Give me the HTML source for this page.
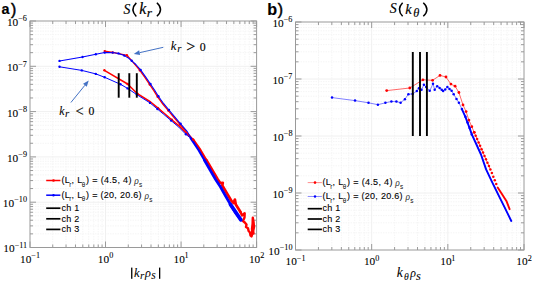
<!DOCTYPE html>
<html><head><meta charset="utf-8"><style>
html,body{margin:0;padding:0;background:#fff;width:533px;height:284px;overflow:hidden}
svg{display:block}
.tl{font-family:"Liberation Serif",serif;font-size:11.3px;fill:#000;stroke:#000;stroke-width:0.08px}
.tls{font-family:"Liberation Serif",serif;font-size:8.2px;fill:#000;stroke:#000;stroke-width:0.08px}
.lg{font-family:"Liberation Sans",sans-serif;font-size:9px;fill:#000;stroke:#000;stroke-width:0.1px;letter-spacing:0.3px}
.lgs{font-family:"Liberation Sans",sans-serif;font-size:6.4px;fill:#111}
.rho{font-family:"Liberation Serif",serif;font-style:italic;font-size:9.5px;fill:#333}
.pl{font-family:"Liberation Sans",sans-serif;font-weight:bold;font-size:14px;fill:#000}
.ttl,.xl,.ann{font-family:"Liberation Serif",serif;font-size:14px;fill:#000}
.ann{font-size:13px}
.it{font-style:italic}
.sub2{font-size:9.5px}
</style></head><body>
<svg width="533" height="284" viewBox="0 0 533 284">
<rect width="533" height="284" fill="#fff"/>
<line x1="52.74" y1="21" x2="52.74" y2="247.5" stroke="#f5f5f5" stroke-width="1" stroke-dasharray="1.5,1"/>
<line x1="66.04" y1="21" x2="66.04" y2="247.5" stroke="#f5f5f5" stroke-width="1" stroke-dasharray="1.5,1"/>
<line x1="75.48" y1="21" x2="75.48" y2="247.5" stroke="#f5f5f5" stroke-width="1" stroke-dasharray="1.5,1"/>
<line x1="82.8" y1="21" x2="82.8" y2="247.5" stroke="#f5f5f5" stroke-width="1" stroke-dasharray="1.5,1"/>
<line x1="88.78" y1="21" x2="88.78" y2="247.5" stroke="#f5f5f5" stroke-width="1" stroke-dasharray="1.5,1"/>
<line x1="93.83" y1="21" x2="93.83" y2="247.5" stroke="#f5f5f5" stroke-width="1" stroke-dasharray="1.5,1"/>
<line x1="98.21" y1="21" x2="98.21" y2="247.5" stroke="#f5f5f5" stroke-width="1" stroke-dasharray="1.5,1"/>
<line x1="102.08" y1="21" x2="102.08" y2="247.5" stroke="#f5f5f5" stroke-width="1" stroke-dasharray="1.5,1"/>
<line x1="128.27" y1="21" x2="128.27" y2="247.5" stroke="#f5f5f5" stroke-width="1" stroke-dasharray="1.5,1"/>
<line x1="141.57" y1="21" x2="141.57" y2="247.5" stroke="#f5f5f5" stroke-width="1" stroke-dasharray="1.5,1"/>
<line x1="151.01" y1="21" x2="151.01" y2="247.5" stroke="#f5f5f5" stroke-width="1" stroke-dasharray="1.5,1"/>
<line x1="158.33" y1="21" x2="158.33" y2="247.5" stroke="#f5f5f5" stroke-width="1" stroke-dasharray="1.5,1"/>
<line x1="164.31" y1="21" x2="164.31" y2="247.5" stroke="#f5f5f5" stroke-width="1" stroke-dasharray="1.5,1"/>
<line x1="169.37" y1="21" x2="169.37" y2="247.5" stroke="#f5f5f5" stroke-width="1" stroke-dasharray="1.5,1"/>
<line x1="173.75" y1="21" x2="173.75" y2="247.5" stroke="#f5f5f5" stroke-width="1" stroke-dasharray="1.5,1"/>
<line x1="177.61" y1="21" x2="177.61" y2="247.5" stroke="#f5f5f5" stroke-width="1" stroke-dasharray="1.5,1"/>
<line x1="203.8" y1="21" x2="203.8" y2="247.5" stroke="#f5f5f5" stroke-width="1" stroke-dasharray="1.5,1"/>
<line x1="217.11" y1="21" x2="217.11" y2="247.5" stroke="#f5f5f5" stroke-width="1" stroke-dasharray="1.5,1"/>
<line x1="226.54" y1="21" x2="226.54" y2="247.5" stroke="#f5f5f5" stroke-width="1" stroke-dasharray="1.5,1"/>
<line x1="233.86" y1="21" x2="233.86" y2="247.5" stroke="#f5f5f5" stroke-width="1" stroke-dasharray="1.5,1"/>
<line x1="239.84" y1="21" x2="239.84" y2="247.5" stroke="#f5f5f5" stroke-width="1" stroke-dasharray="1.5,1"/>
<line x1="244.9" y1="21" x2="244.9" y2="247.5" stroke="#f5f5f5" stroke-width="1" stroke-dasharray="1.5,1"/>
<line x1="249.28" y1="21" x2="249.28" y2="247.5" stroke="#f5f5f5" stroke-width="1" stroke-dasharray="1.5,1"/>
<line x1="253.14" y1="21" x2="253.14" y2="247.5" stroke="#f5f5f5" stroke-width="1" stroke-dasharray="1.5,1"/>
<line x1="30" y1="233.86" x2="256.6" y2="233.86" stroke="#f5f5f5" stroke-width="1" stroke-dasharray="1.5,1"/>
<line x1="30" y1="225.89" x2="256.6" y2="225.89" stroke="#f5f5f5" stroke-width="1" stroke-dasharray="1.5,1"/>
<line x1="30" y1="220.23" x2="256.6" y2="220.23" stroke="#f5f5f5" stroke-width="1" stroke-dasharray="1.5,1"/>
<line x1="30" y1="215.84" x2="256.6" y2="215.84" stroke="#f5f5f5" stroke-width="1" stroke-dasharray="1.5,1"/>
<line x1="30" y1="212.25" x2="256.6" y2="212.25" stroke="#f5f5f5" stroke-width="1" stroke-dasharray="1.5,1"/>
<line x1="30" y1="209.22" x2="256.6" y2="209.22" stroke="#f5f5f5" stroke-width="1" stroke-dasharray="1.5,1"/>
<line x1="30" y1="206.59" x2="256.6" y2="206.59" stroke="#f5f5f5" stroke-width="1" stroke-dasharray="1.5,1"/>
<line x1="30" y1="204.27" x2="256.6" y2="204.27" stroke="#f5f5f5" stroke-width="1" stroke-dasharray="1.5,1"/>
<line x1="30" y1="188.56" x2="256.6" y2="188.56" stroke="#f5f5f5" stroke-width="1" stroke-dasharray="1.5,1"/>
<line x1="30" y1="180.59" x2="256.6" y2="180.59" stroke="#f5f5f5" stroke-width="1" stroke-dasharray="1.5,1"/>
<line x1="30" y1="174.93" x2="256.6" y2="174.93" stroke="#f5f5f5" stroke-width="1" stroke-dasharray="1.5,1"/>
<line x1="30" y1="170.54" x2="256.6" y2="170.54" stroke="#f5f5f5" stroke-width="1" stroke-dasharray="1.5,1"/>
<line x1="30" y1="166.95" x2="256.6" y2="166.95" stroke="#f5f5f5" stroke-width="1" stroke-dasharray="1.5,1"/>
<line x1="30" y1="163.92" x2="256.6" y2="163.92" stroke="#f5f5f5" stroke-width="1" stroke-dasharray="1.5,1"/>
<line x1="30" y1="161.29" x2="256.6" y2="161.29" stroke="#f5f5f5" stroke-width="1" stroke-dasharray="1.5,1"/>
<line x1="30" y1="158.97" x2="256.6" y2="158.97" stroke="#f5f5f5" stroke-width="1" stroke-dasharray="1.5,1"/>
<line x1="30" y1="143.26" x2="256.6" y2="143.26" stroke="#f5f5f5" stroke-width="1" stroke-dasharray="1.5,1"/>
<line x1="30" y1="135.29" x2="256.6" y2="135.29" stroke="#f5f5f5" stroke-width="1" stroke-dasharray="1.5,1"/>
<line x1="30" y1="129.63" x2="256.6" y2="129.63" stroke="#f5f5f5" stroke-width="1" stroke-dasharray="1.5,1"/>
<line x1="30" y1="125.24" x2="256.6" y2="125.24" stroke="#f5f5f5" stroke-width="1" stroke-dasharray="1.5,1"/>
<line x1="30" y1="121.65" x2="256.6" y2="121.65" stroke="#f5f5f5" stroke-width="1" stroke-dasharray="1.5,1"/>
<line x1="30" y1="118.62" x2="256.6" y2="118.62" stroke="#f5f5f5" stroke-width="1" stroke-dasharray="1.5,1"/>
<line x1="30" y1="115.99" x2="256.6" y2="115.99" stroke="#f5f5f5" stroke-width="1" stroke-dasharray="1.5,1"/>
<line x1="30" y1="113.67" x2="256.6" y2="113.67" stroke="#f5f5f5" stroke-width="1" stroke-dasharray="1.5,1"/>
<line x1="30" y1="97.96" x2="256.6" y2="97.96" stroke="#f5f5f5" stroke-width="1" stroke-dasharray="1.5,1"/>
<line x1="30" y1="89.99" x2="256.6" y2="89.99" stroke="#f5f5f5" stroke-width="1" stroke-dasharray="1.5,1"/>
<line x1="30" y1="84.33" x2="256.6" y2="84.33" stroke="#f5f5f5" stroke-width="1" stroke-dasharray="1.5,1"/>
<line x1="30" y1="79.94" x2="256.6" y2="79.94" stroke="#f5f5f5" stroke-width="1" stroke-dasharray="1.5,1"/>
<line x1="30" y1="76.35" x2="256.6" y2="76.35" stroke="#f5f5f5" stroke-width="1" stroke-dasharray="1.5,1"/>
<line x1="30" y1="73.32" x2="256.6" y2="73.32" stroke="#f5f5f5" stroke-width="1" stroke-dasharray="1.5,1"/>
<line x1="30" y1="70.69" x2="256.6" y2="70.69" stroke="#f5f5f5" stroke-width="1" stroke-dasharray="1.5,1"/>
<line x1="30" y1="68.37" x2="256.6" y2="68.37" stroke="#f5f5f5" stroke-width="1" stroke-dasharray="1.5,1"/>
<line x1="30" y1="52.66" x2="256.6" y2="52.66" stroke="#f5f5f5" stroke-width="1" stroke-dasharray="1.5,1"/>
<line x1="30" y1="44.69" x2="256.6" y2="44.69" stroke="#f5f5f5" stroke-width="1" stroke-dasharray="1.5,1"/>
<line x1="30" y1="39.03" x2="256.6" y2="39.03" stroke="#f5f5f5" stroke-width="1" stroke-dasharray="1.5,1"/>
<line x1="30" y1="34.64" x2="256.6" y2="34.64" stroke="#f5f5f5" stroke-width="1" stroke-dasharray="1.5,1"/>
<line x1="30" y1="31.05" x2="256.6" y2="31.05" stroke="#f5f5f5" stroke-width="1" stroke-dasharray="1.5,1"/>
<line x1="30" y1="28.02" x2="256.6" y2="28.02" stroke="#f5f5f5" stroke-width="1" stroke-dasharray="1.5,1"/>
<line x1="30" y1="25.39" x2="256.6" y2="25.39" stroke="#f5f5f5" stroke-width="1" stroke-dasharray="1.5,1"/>
<line x1="30" y1="23.07" x2="256.6" y2="23.07" stroke="#f5f5f5" stroke-width="1" stroke-dasharray="1.5,1"/>
<line x1="105.53" y1="21" x2="105.53" y2="247.5" stroke="#f0f0f0" stroke-width="1"/>
<line x1="181.07" y1="21" x2="181.07" y2="247.5" stroke="#f0f0f0" stroke-width="1"/>
<line x1="30" y1="66.3" x2="256.6" y2="66.3" stroke="#f0f0f0" stroke-width="1"/>
<line x1="30" y1="111.6" x2="256.6" y2="111.6" stroke="#f0f0f0" stroke-width="1"/>
<line x1="30" y1="156.9" x2="256.6" y2="156.9" stroke="#f0f0f0" stroke-width="1"/>
<line x1="30" y1="202.2" x2="256.6" y2="202.2" stroke="#f0f0f0" stroke-width="1"/>
<path d="M30 247.5v-6M30 21v6M52.74 247.5v-3M52.74 21v3M66.04 247.5v-3M66.04 21v3M75.48 247.5v-3M75.48 21v3M82.8 247.5v-3M82.8 21v3M88.78 247.5v-3M88.78 21v3M93.83 247.5v-3M93.83 21v3M98.21 247.5v-3M98.21 21v3M102.08 247.5v-3M102.08 21v3M105.53 247.5v-6M105.53 21v6M128.27 247.5v-3M128.27 21v3M141.57 247.5v-3M141.57 21v3M151.01 247.5v-3M151.01 21v3M158.33 247.5v-3M158.33 21v3M164.31 247.5v-3M164.31 21v3M169.37 247.5v-3M169.37 21v3M173.75 247.5v-3M173.75 21v3M177.61 247.5v-3M177.61 21v3M181.07 247.5v-6M181.07 21v6M203.8 247.5v-3M203.8 21v3M217.11 247.5v-3M217.11 21v3M226.54 247.5v-3M226.54 21v3M233.86 247.5v-3M233.86 21v3M239.84 247.5v-3M239.84 21v3M244.9 247.5v-3M244.9 21v3M249.28 247.5v-3M249.28 21v3M253.14 247.5v-3M253.14 21v3M256.6 247.5v-6M256.6 21v6M30 21h6M256.6 21h-6M30 233.86h3M256.6 233.86h-3M30 225.89h3M256.6 225.89h-3M30 220.23h3M256.6 220.23h-3M30 215.84h3M256.6 215.84h-3M30 212.25h3M256.6 212.25h-3M30 209.22h3M256.6 209.22h-3M30 206.59h3M256.6 206.59h-3M30 204.27h3M256.6 204.27h-3M30 66.3h6M256.6 66.3h-6M30 188.56h3M256.6 188.56h-3M30 180.59h3M256.6 180.59h-3M30 174.93h3M256.6 174.93h-3M30 170.54h3M256.6 170.54h-3M30 166.95h3M256.6 166.95h-3M30 163.92h3M256.6 163.92h-3M30 161.29h3M256.6 161.29h-3M30 158.97h3M256.6 158.97h-3M30 111.6h6M256.6 111.6h-6M30 143.26h3M256.6 143.26h-3M30 135.29h3M256.6 135.29h-3M30 129.63h3M256.6 129.63h-3M30 125.24h3M256.6 125.24h-3M30 121.65h3M256.6 121.65h-3M30 118.62h3M256.6 118.62h-3M30 115.99h3M256.6 115.99h-3M30 113.67h3M256.6 113.67h-3M30 156.9h6M256.6 156.9h-6M30 97.96h3M256.6 97.96h-3M30 89.99h3M256.6 89.99h-3M30 84.33h3M256.6 84.33h-3M30 79.94h3M256.6 79.94h-3M30 76.35h3M256.6 76.35h-3M30 73.32h3M256.6 73.32h-3M30 70.69h3M256.6 70.69h-3M30 68.37h3M256.6 68.37h-3M30 202.2h6M256.6 202.2h-6M30 52.66h3M256.6 52.66h-3M30 44.69h3M256.6 44.69h-3M30 39.03h3M256.6 39.03h-3M30 34.64h3M256.6 34.64h-3M30 31.05h3M256.6 31.05h-3M30 28.02h3M256.6 28.02h-3M30 25.39h3M256.6 25.39h-3M30 23.07h3M256.6 23.07h-3M30 247.5h6M256.6 247.5h-6" stroke="#9a9a9a" stroke-width="1" fill="none"/>
<rect x="30" y="21" width="226.6" height="226.5" fill="none" stroke="#9a9a9a" stroke-width="1"/>
<text x="20.03" y="262.8" class="tl">10</text><text x="31.37" y="258.1" class="tls">−1</text>
<text x="97.76" y="262.8" class="tl">10</text><text x="109.18" y="258.1" class="tls">0</text>
<text x="173.56" y="262.8" class="tl">10</text><text x="184.61" y="258.1" class="tls">1</text>
<text x="248.91" y="262.8" class="tl">10</text><text x="260.28" y="258.1" class="tls">2</text>
<text x="6.88" y="25.9" class="tl">10</text><text x="18.21" y="21.2" class="tls">−6</text>
<text x="6.88" y="71.2" class="tl">10</text><text x="18.21" y="66.5" class="tls">−7</text>
<text x="6.96" y="116.5" class="tl">10</text><text x="18.3" y="111.8" class="tls">−8</text>
<text x="6.96" y="161.8" class="tl">10</text><text x="18.3" y="157.1" class="tls">−9</text>
<text x="2.86" y="207.1" class="tl">10</text><text x="14.2" y="202.4" class="tls">−10</text>
<text x="3.35" y="252.4" class="tl">10</text><text x="14.69" y="247.7" class="tls">−11</text>
<line x1="318.43" y1="22" x2="318.43" y2="250" stroke="#f5f5f5" stroke-width="1" stroke-dasharray="1.5,1"/>
<line x1="331.84" y1="22" x2="331.84" y2="250" stroke="#f5f5f5" stroke-width="1" stroke-dasharray="1.5,1"/>
<line x1="341.36" y1="22" x2="341.36" y2="250" stroke="#f5f5f5" stroke-width="1" stroke-dasharray="1.5,1"/>
<line x1="348.74" y1="22" x2="348.74" y2="250" stroke="#f5f5f5" stroke-width="1" stroke-dasharray="1.5,1"/>
<line x1="354.77" y1="22" x2="354.77" y2="250" stroke="#f5f5f5" stroke-width="1" stroke-dasharray="1.5,1"/>
<line x1="359.87" y1="22" x2="359.87" y2="250" stroke="#f5f5f5" stroke-width="1" stroke-dasharray="1.5,1"/>
<line x1="364.29" y1="22" x2="364.29" y2="250" stroke="#f5f5f5" stroke-width="1" stroke-dasharray="1.5,1"/>
<line x1="368.18" y1="22" x2="368.18" y2="250" stroke="#f5f5f5" stroke-width="1" stroke-dasharray="1.5,1"/>
<line x1="394.6" y1="22" x2="394.6" y2="250" stroke="#f5f5f5" stroke-width="1" stroke-dasharray="1.5,1"/>
<line x1="408.01" y1="22" x2="408.01" y2="250" stroke="#f5f5f5" stroke-width="1" stroke-dasharray="1.5,1"/>
<line x1="417.52" y1="22" x2="417.52" y2="250" stroke="#f5f5f5" stroke-width="1" stroke-dasharray="1.5,1"/>
<line x1="424.9" y1="22" x2="424.9" y2="250" stroke="#f5f5f5" stroke-width="1" stroke-dasharray="1.5,1"/>
<line x1="430.94" y1="22" x2="430.94" y2="250" stroke="#f5f5f5" stroke-width="1" stroke-dasharray="1.5,1"/>
<line x1="436.03" y1="22" x2="436.03" y2="250" stroke="#f5f5f5" stroke-width="1" stroke-dasharray="1.5,1"/>
<line x1="440.45" y1="22" x2="440.45" y2="250" stroke="#f5f5f5" stroke-width="1" stroke-dasharray="1.5,1"/>
<line x1="444.35" y1="22" x2="444.35" y2="250" stroke="#f5f5f5" stroke-width="1" stroke-dasharray="1.5,1"/>
<line x1="470.76" y1="22" x2="470.76" y2="250" stroke="#f5f5f5" stroke-width="1" stroke-dasharray="1.5,1"/>
<line x1="484.17" y1="22" x2="484.17" y2="250" stroke="#f5f5f5" stroke-width="1" stroke-dasharray="1.5,1"/>
<line x1="493.69" y1="22" x2="493.69" y2="250" stroke="#f5f5f5" stroke-width="1" stroke-dasharray="1.5,1"/>
<line x1="501.07" y1="22" x2="501.07" y2="250" stroke="#f5f5f5" stroke-width="1" stroke-dasharray="1.5,1"/>
<line x1="507.1" y1="22" x2="507.1" y2="250" stroke="#f5f5f5" stroke-width="1" stroke-dasharray="1.5,1"/>
<line x1="512.2" y1="22" x2="512.2" y2="250" stroke="#f5f5f5" stroke-width="1" stroke-dasharray="1.5,1"/>
<line x1="516.62" y1="22" x2="516.62" y2="250" stroke="#f5f5f5" stroke-width="1" stroke-dasharray="1.5,1"/>
<line x1="520.51" y1="22" x2="520.51" y2="250" stroke="#f5f5f5" stroke-width="1" stroke-dasharray="1.5,1"/>
<line x1="295.5" y1="232.84" x2="524" y2="232.84" stroke="#f5f5f5" stroke-width="1" stroke-dasharray="1.5,1"/>
<line x1="295.5" y1="222.8" x2="524" y2="222.8" stroke="#f5f5f5" stroke-width="1" stroke-dasharray="1.5,1"/>
<line x1="295.5" y1="215.68" x2="524" y2="215.68" stroke="#f5f5f5" stroke-width="1" stroke-dasharray="1.5,1"/>
<line x1="295.5" y1="210.16" x2="524" y2="210.16" stroke="#f5f5f5" stroke-width="1" stroke-dasharray="1.5,1"/>
<line x1="295.5" y1="205.65" x2="524" y2="205.65" stroke="#f5f5f5" stroke-width="1" stroke-dasharray="1.5,1"/>
<line x1="295.5" y1="201.83" x2="524" y2="201.83" stroke="#f5f5f5" stroke-width="1" stroke-dasharray="1.5,1"/>
<line x1="295.5" y1="198.52" x2="524" y2="198.52" stroke="#f5f5f5" stroke-width="1" stroke-dasharray="1.5,1"/>
<line x1="295.5" y1="195.61" x2="524" y2="195.61" stroke="#f5f5f5" stroke-width="1" stroke-dasharray="1.5,1"/>
<line x1="295.5" y1="175.84" x2="524" y2="175.84" stroke="#f5f5f5" stroke-width="1" stroke-dasharray="1.5,1"/>
<line x1="295.5" y1="165.8" x2="524" y2="165.8" stroke="#f5f5f5" stroke-width="1" stroke-dasharray="1.5,1"/>
<line x1="295.5" y1="158.68" x2="524" y2="158.68" stroke="#f5f5f5" stroke-width="1" stroke-dasharray="1.5,1"/>
<line x1="295.5" y1="153.16" x2="524" y2="153.16" stroke="#f5f5f5" stroke-width="1" stroke-dasharray="1.5,1"/>
<line x1="295.5" y1="148.65" x2="524" y2="148.65" stroke="#f5f5f5" stroke-width="1" stroke-dasharray="1.5,1"/>
<line x1="295.5" y1="144.83" x2="524" y2="144.83" stroke="#f5f5f5" stroke-width="1" stroke-dasharray="1.5,1"/>
<line x1="295.5" y1="141.52" x2="524" y2="141.52" stroke="#f5f5f5" stroke-width="1" stroke-dasharray="1.5,1"/>
<line x1="295.5" y1="138.61" x2="524" y2="138.61" stroke="#f5f5f5" stroke-width="1" stroke-dasharray="1.5,1"/>
<line x1="295.5" y1="118.84" x2="524" y2="118.84" stroke="#f5f5f5" stroke-width="1" stroke-dasharray="1.5,1"/>
<line x1="295.5" y1="108.8" x2="524" y2="108.8" stroke="#f5f5f5" stroke-width="1" stroke-dasharray="1.5,1"/>
<line x1="295.5" y1="101.68" x2="524" y2="101.68" stroke="#f5f5f5" stroke-width="1" stroke-dasharray="1.5,1"/>
<line x1="295.5" y1="96.16" x2="524" y2="96.16" stroke="#f5f5f5" stroke-width="1" stroke-dasharray="1.5,1"/>
<line x1="295.5" y1="91.65" x2="524" y2="91.65" stroke="#f5f5f5" stroke-width="1" stroke-dasharray="1.5,1"/>
<line x1="295.5" y1="87.83" x2="524" y2="87.83" stroke="#f5f5f5" stroke-width="1" stroke-dasharray="1.5,1"/>
<line x1="295.5" y1="84.52" x2="524" y2="84.52" stroke="#f5f5f5" stroke-width="1" stroke-dasharray="1.5,1"/>
<line x1="295.5" y1="81.61" x2="524" y2="81.61" stroke="#f5f5f5" stroke-width="1" stroke-dasharray="1.5,1"/>
<line x1="295.5" y1="61.84" x2="524" y2="61.84" stroke="#f5f5f5" stroke-width="1" stroke-dasharray="1.5,1"/>
<line x1="295.5" y1="51.8" x2="524" y2="51.8" stroke="#f5f5f5" stroke-width="1" stroke-dasharray="1.5,1"/>
<line x1="295.5" y1="44.68" x2="524" y2="44.68" stroke="#f5f5f5" stroke-width="1" stroke-dasharray="1.5,1"/>
<line x1="295.5" y1="39.16" x2="524" y2="39.16" stroke="#f5f5f5" stroke-width="1" stroke-dasharray="1.5,1"/>
<line x1="295.5" y1="34.65" x2="524" y2="34.65" stroke="#f5f5f5" stroke-width="1" stroke-dasharray="1.5,1"/>
<line x1="295.5" y1="30.83" x2="524" y2="30.83" stroke="#f5f5f5" stroke-width="1" stroke-dasharray="1.5,1"/>
<line x1="295.5" y1="27.52" x2="524" y2="27.52" stroke="#f5f5f5" stroke-width="1" stroke-dasharray="1.5,1"/>
<line x1="295.5" y1="24.61" x2="524" y2="24.61" stroke="#f5f5f5" stroke-width="1" stroke-dasharray="1.5,1"/>
<line x1="371.67" y1="22" x2="371.67" y2="250" stroke="#f0f0f0" stroke-width="1"/>
<line x1="447.83" y1="22" x2="447.83" y2="250" stroke="#f0f0f0" stroke-width="1"/>
<line x1="295.5" y1="79" x2="524" y2="79" stroke="#f0f0f0" stroke-width="1"/>
<line x1="295.5" y1="136" x2="524" y2="136" stroke="#f0f0f0" stroke-width="1"/>
<line x1="295.5" y1="193" x2="524" y2="193" stroke="#f0f0f0" stroke-width="1"/>
<path d="M295.5 250v-6M295.5 22v6M318.43 250v-3M318.43 22v3M331.84 250v-3M331.84 22v3M341.36 250v-3M341.36 22v3M348.74 250v-3M348.74 22v3M354.77 250v-3M354.77 22v3M359.87 250v-3M359.87 22v3M364.29 250v-3M364.29 22v3M368.18 250v-3M368.18 22v3M371.67 250v-6M371.67 22v6M394.6 250v-3M394.6 22v3M408.01 250v-3M408.01 22v3M417.52 250v-3M417.52 22v3M424.9 250v-3M424.9 22v3M430.94 250v-3M430.94 22v3M436.03 250v-3M436.03 22v3M440.45 250v-3M440.45 22v3M444.35 250v-3M444.35 22v3M447.83 250v-6M447.83 22v6M470.76 250v-3M470.76 22v3M484.17 250v-3M484.17 22v3M493.69 250v-3M493.69 22v3M501.07 250v-3M501.07 22v3M507.1 250v-3M507.1 22v3M512.2 250v-3M512.2 22v3M516.62 250v-3M516.62 22v3M520.51 250v-3M520.51 22v3M524 250v-6M524 22v6M295.5 22h6M524 22h-6M295.5 232.84h3M524 232.84h-3M295.5 222.8h3M524 222.8h-3M295.5 215.68h3M524 215.68h-3M295.5 210.16h3M524 210.16h-3M295.5 205.65h3M524 205.65h-3M295.5 201.83h3M524 201.83h-3M295.5 198.52h3M524 198.52h-3M295.5 195.61h3M524 195.61h-3M295.5 79h6M524 79h-6M295.5 175.84h3M524 175.84h-3M295.5 165.8h3M524 165.8h-3M295.5 158.68h3M524 158.68h-3M295.5 153.16h3M524 153.16h-3M295.5 148.65h3M524 148.65h-3M295.5 144.83h3M524 144.83h-3M295.5 141.52h3M524 141.52h-3M295.5 138.61h3M524 138.61h-3M295.5 136h6M524 136h-6M295.5 118.84h3M524 118.84h-3M295.5 108.8h3M524 108.8h-3M295.5 101.68h3M524 101.68h-3M295.5 96.16h3M524 96.16h-3M295.5 91.65h3M524 91.65h-3M295.5 87.83h3M524 87.83h-3M295.5 84.52h3M524 84.52h-3M295.5 81.61h3M524 81.61h-3M295.5 193h6M524 193h-6M295.5 61.84h3M524 61.84h-3M295.5 51.8h3M524 51.8h-3M295.5 44.68h3M524 44.68h-3M295.5 39.16h3M524 39.16h-3M295.5 34.65h3M524 34.65h-3M295.5 30.83h3M524 30.83h-3M295.5 27.52h3M524 27.52h-3M295.5 24.61h3M524 24.61h-3M295.5 250h6M524 250h-6" stroke="#9a9a9a" stroke-width="1" fill="none"/>
<rect x="295.5" y="22" width="228.5" height="228" fill="none" stroke="#9a9a9a" stroke-width="1"/>
<text x="285.53" y="265.3" class="tl">10</text><text x="296.87" y="260.6" class="tls">−1</text>
<text x="363.89" y="265.3" class="tl">10</text><text x="375.31" y="260.6" class="tls">0</text>
<text x="440.32" y="265.3" class="tl">10</text><text x="451.37" y="260.6" class="tls">1</text>
<text x="516.31" y="265.3" class="tl">10</text><text x="527.68" y="260.6" class="tls">2</text>
<text x="272.38" y="26.9" class="tl">10</text><text x="283.71" y="22.2" class="tls">−6</text>
<text x="272.38" y="83.9" class="tl">10</text><text x="283.71" y="79.2" class="tls">−7</text>
<text x="272.46" y="140.9" class="tl">10</text><text x="283.79" y="136.2" class="tls">−8</text>
<text x="272.46" y="197.9" class="tl">10</text><text x="283.79" y="193.2" class="tls">−9</text>
<text x="268.36" y="254.9" class="tl">10</text><text x="279.69" y="250.2" class="tls">−10</text>
<polyline points="104.7,51.1 112.7,52.4 126.9,55.3 131.7,60.6 139.87,70.42 144.86,77.42 149.76,84.51 153.94,90.79 157.65,96.8 162.99,104.25 168.31,110.58 173.61,116.98 179.92,124.39 186.22,131.69 193.2,139.6" fill="none" stroke="#ff0000" stroke-width="1.3" stroke-linejoin="round" stroke-linecap="round" />
<polyline points="104.4,70.3 127.6,84 137.39,93.67 150.63,102 158.1,108.15 164.41,113.46 171.81,119.76 179.25,126.09 186.68,133.52 193.2,139.6" fill="none" stroke="#ff0000" stroke-width="1.5" stroke-linejoin="round" stroke-linecap="round" />
<polyline points="193.2,139.6 200.4,150 206.3,160" fill="none" stroke="#ff0000" stroke-width="2.3" stroke-linejoin="round" stroke-linecap="round" />
<polyline points="206.3,160 212.2,170 217.5,179 220.2,183 222.8,182.8 222.3,185.5 227.6,194.5 231.5,201 233.6,203 234.9,199.6 235.8,204.5 238,208 240.5,212" fill="none" stroke="#ff0000" stroke-width="2.7" stroke-linejoin="round" stroke-linecap="round" />
<polyline points="240.5,212 242,215.5 244.7,213.2 244.5,217.5 243,221 244.8,222.5 246.5,224.5 246,227 248,228.2 248.6,231 250,232.5 250.5,235.5 251.5,236.5 252.3,234 252,229 252.6,224 252.8,217.8 253.6,222.5 254,227 253.2,231 253.5,233.5" fill="none" stroke="#ff0000" stroke-width="2.4" stroke-linejoin="round" stroke-linecap="round" />
<polyline points="59.5,60.9 82.5,57 95.8,54.2 104.7,52.6 112.7,52.6 118.5,53.4 124.3,55.6 128,57.7 131.7,60.8 135.9,64.5 140.6,69.9 145.6,76.9 150.5,84 154.7,90.3 158.4,96.3 163.7,103.7 169,110 174.3,116.4 180.6,123.8 186.9,131.1 190.6,137.2 198.5,150" fill="none" stroke="#0000ff" stroke-width="1.05" stroke-linejoin="round" stroke-linecap="round" />
<polyline points="59.5,66.8 81.8,70.4 95.8,73.9 104.7,77.3 120.5,84.3 127.6,88.4 136.8,94.6 150,102.9 157.4,109 163.7,114.3 171.1,120.6 178.5,126.9 185.9,134.3 190.6,138.2" fill="none" stroke="#0000ff" stroke-width="1.0" stroke-linejoin="round" stroke-linecap="round" />
<polyline points="190.6,138.2 198.5,150 204.3,160" fill="none" stroke="#0000ff" stroke-width="2.2" stroke-linejoin="round" stroke-linecap="round" />
<polyline points="204.3,160 210.1,170 215.6,179.5 220.2,186.5 225,195 230.5,204.5 236,213.5 240.8,219.8" fill="none" stroke="#0000ff" stroke-width="2.7" stroke-linejoin="round" stroke-linecap="round" />
<line x1="230.5" y1="204.5" x2="240.8" y2="219.8" stroke="#0000ff" stroke-width="3.8" stroke-linecap="round"/>
<circle cx="104.7" cy="51.1" r="1.2" fill="#ff0000"/><circle cx="112.7" cy="52.4" r="1.2" fill="#ff0000"/><circle cx="126.9" cy="55.3" r="1.2" fill="#ff0000"/><circle cx="139.87" cy="70.42" r="1.2" fill="#ff0000"/><circle cx="149.76" cy="84.51" r="1.2" fill="#ff0000"/><circle cx="157.65" cy="96.8" r="1.2" fill="#ff0000"/><circle cx="168.31" cy="110.58" r="1.2" fill="#ff0000"/><circle cx="179.92" cy="124.39" r="1.2" fill="#ff0000"/><circle cx="193.2" cy="139.6" r="1.2" fill="#ff0000"/><circle cx="104.4" cy="70.3" r="1.2" fill="#ff0000"/><circle cx="127.6" cy="84" r="1.2" fill="#ff0000"/><circle cx="137.39" cy="93.67" r="1.2" fill="#ff0000"/><circle cx="158.1" cy="108.15" r="1.2" fill="#ff0000"/><circle cx="171.81" cy="119.76" r="1.2" fill="#ff0000"/><circle cx="186.68" cy="133.52" r="1.2" fill="#ff0000"/>
<circle cx="59.5" cy="60.9" r="1.2" fill="#0000ff"/><circle cx="82.5" cy="57" r="1.2" fill="#0000ff"/><circle cx="95.8" cy="54.2" r="1.2" fill="#0000ff"/><circle cx="104.7" cy="52.6" r="1.2" fill="#0000ff"/><circle cx="112.7" cy="52.6" r="1.2" fill="#0000ff"/><circle cx="118.5" cy="53.4" r="1.2" fill="#0000ff"/><circle cx="124.3" cy="55.6" r="1.2" fill="#0000ff"/><circle cx="131.7" cy="60.8" r="1.2" fill="#0000ff"/><circle cx="140.6" cy="69.9" r="1.2" fill="#0000ff"/><circle cx="150.5" cy="84" r="1.2" fill="#0000ff"/><circle cx="158.4" cy="96.3" r="1.2" fill="#0000ff"/><circle cx="169" cy="110" r="1.2" fill="#0000ff"/><circle cx="180.6" cy="123.8" r="1.2" fill="#0000ff"/><circle cx="59.5" cy="66.8" r="1.2" fill="#0000ff"/><circle cx="81.8" cy="70.4" r="1.2" fill="#0000ff"/><circle cx="95.8" cy="73.9" r="1.2" fill="#0000ff"/><circle cx="104.7" cy="77.3" r="1.2" fill="#0000ff"/><circle cx="120.5" cy="84.3" r="1.2" fill="#0000ff"/><circle cx="127.6" cy="88.4" r="1.2" fill="#0000ff"/><circle cx="136.8" cy="94.6" r="1.2" fill="#0000ff"/><circle cx="150" cy="102.9" r="1.2" fill="#0000ff"/><circle cx="157.4" cy="109" r="1.2" fill="#0000ff"/><circle cx="171.1" cy="120.6" r="1.2" fill="#0000ff"/><circle cx="185.9" cy="134.3" r="1.2" fill="#0000ff"/>
<line x1="118.7" y1="73.2" x2="118.7" y2="97.7" stroke="#000" stroke-width="1.9"/>
<line x1="129.3" y1="73.2" x2="129.3" y2="97.7" stroke="#000" stroke-width="1.9"/>
<line x1="136.8" y1="73.2" x2="136.8" y2="97.7" stroke="#000" stroke-width="1.9"/>
<polyline points="386.7,90.6 409.8,88 422.9,79.8 432.6,80.3 440,75.4 446,77 450.9,84.1 455.1,86.2 458.9,92.5 463,104.9 466.1,111.6 468.9,120.1 471.8,126.7 474.2,132.3 490.4,169.4" fill="none" stroke="#ff0000" stroke-width="0.6" stroke-linejoin="round" stroke-linecap="round" />
<polyline points="332,97.6 355,100.6 368.5,102.8 377.9,104.7 385.4,102.8 391.4,101.5 396.4,101.6 400.6,102.7 404.9,99.2 408.4,94.2 412.6,93.9 416.8,91.1 418.9,88.3 421.5,89.7 423.9,84.8 426.2,86.9 429.7,90.8 433,83.8 434.7,89.7 437.2,86.2 439.6,88 441.7,89.7 443.1,91.1 445.2,89.4 447.4,86.9 449.5,89 451.6,90.8 453.7,94.2 456.5,98.9 458.9,102.7 461.9,109.1 465.4,116.8 467.5,122.5 469.6,128.1 471.8,134.4 476,143.5 481,154.5 486.1,169.4 492,181.8 499,196.2 505,208.2 511.3,221" fill="none" stroke="#0000ff" stroke-width="0.5" stroke-linejoin="round" stroke-linecap="round" />
<polyline points="461.9,109.1 465.4,116.8 467.5,122.5 469.6,128.1 471.8,134.4 476,143.5 481,154.5 486.1,169.4 492,181.8 499,196.2 505,208.2 511.3,221" fill="none" stroke="#0000ff" stroke-width="1.9" stroke-linejoin="round" stroke-linecap="round" />
<circle cx="474.2" cy="132.3" r="1.25" fill="#ff0000"/><circle cx="475.67" cy="135.67" r="1.25" fill="#ff0000"/><circle cx="477.15" cy="139.05" r="1.25" fill="#ff0000"/><circle cx="478.62" cy="142.42" r="1.25" fill="#ff0000"/><circle cx="480.09" cy="145.79" r="1.25" fill="#ff0000"/><circle cx="481.56" cy="149.16" r="1.25" fill="#ff0000"/><circle cx="483.04" cy="152.54" r="1.25" fill="#ff0000"/><circle cx="484.51" cy="155.91" r="1.25" fill="#ff0000"/><circle cx="485.98" cy="159.28" r="1.25" fill="#ff0000"/><circle cx="487.45" cy="162.65" r="1.25" fill="#ff0000"/><circle cx="488.93" cy="166.03" r="1.25" fill="#ff0000"/><circle cx="490.4" cy="169.4" r="1.25" fill="#ff0000"/><circle cx="491.86" cy="173.02" r="1.25" fill="#ff0000"/><circle cx="493.32" cy="176.64" r="1.25" fill="#ff0000"/><circle cx="494.78" cy="180.26" r="1.25" fill="#ff0000"/><circle cx="496.24" cy="183.88" r="1.25" fill="#ff0000"/>
<polyline points="497.7,187.5 501.1,192.8 506.4,200.9 509.6,209.2" fill="none" stroke="#ff0000" stroke-width="1.9" stroke-linejoin="round" stroke-linecap="round" />
<circle cx="386.7" cy="90.6" r="1.4" fill="#ff0000"/><circle cx="409.8" cy="88" r="1.4" fill="#ff0000"/><circle cx="422.9" cy="79.8" r="1.4" fill="#ff0000"/><circle cx="432.6" cy="80.3" r="1.4" fill="#ff0000"/><circle cx="440" cy="75.4" r="1.4" fill="#ff0000"/><circle cx="446" cy="77" r="1.4" fill="#ff0000"/><circle cx="450.9" cy="84.1" r="1.4" fill="#ff0000"/><circle cx="455.1" cy="86.2" r="1.4" fill="#ff0000"/><circle cx="458.9" cy="92.5" r="1.4" fill="#ff0000"/><circle cx="463" cy="104.9" r="1.4" fill="#ff0000"/><circle cx="466.1" cy="111.6" r="1.4" fill="#ff0000"/><circle cx="468.9" cy="120.1" r="1.4" fill="#ff0000"/><circle cx="471.8" cy="126.7" r="1.4" fill="#ff0000"/><circle cx="474.2" cy="132.3" r="1.4" fill="#ff0000"/>
<circle cx="332" cy="97.6" r="1.25" fill="#0000ff"/><circle cx="355" cy="100.6" r="1.25" fill="#0000ff"/><circle cx="368.5" cy="102.8" r="1.25" fill="#0000ff"/><circle cx="377.9" cy="104.7" r="1.25" fill="#0000ff"/><circle cx="385.4" cy="102.8" r="1.25" fill="#0000ff"/><circle cx="391.4" cy="101.5" r="1.25" fill="#0000ff"/><circle cx="396.4" cy="101.6" r="1.25" fill="#0000ff"/><circle cx="400.6" cy="102.7" r="1.25" fill="#0000ff"/><circle cx="404.9" cy="99.2" r="1.25" fill="#0000ff"/><circle cx="408.4" cy="94.2" r="1.25" fill="#0000ff"/><circle cx="412.6" cy="93.9" r="1.25" fill="#0000ff"/><circle cx="416.8" cy="91.1" r="1.25" fill="#0000ff"/><circle cx="418.9" cy="88.3" r="1.25" fill="#0000ff"/><circle cx="421.5" cy="89.7" r="1.25" fill="#0000ff"/><circle cx="423.9" cy="84.8" r="1.25" fill="#0000ff"/><circle cx="426.2" cy="86.9" r="1.25" fill="#0000ff"/><circle cx="429.7" cy="90.8" r="1.25" fill="#0000ff"/><circle cx="433" cy="83.8" r="1.25" fill="#0000ff"/><circle cx="434.7" cy="89.7" r="1.25" fill="#0000ff"/><circle cx="437.2" cy="86.2" r="1.25" fill="#0000ff"/><circle cx="439.6" cy="88" r="1.25" fill="#0000ff"/><circle cx="441.7" cy="89.7" r="1.25" fill="#0000ff"/><circle cx="443.1" cy="91.1" r="1.25" fill="#0000ff"/><circle cx="445.2" cy="89.4" r="1.25" fill="#0000ff"/><circle cx="447.4" cy="86.9" r="1.25" fill="#0000ff"/><circle cx="449.5" cy="89" r="1.25" fill="#0000ff"/><circle cx="451.6" cy="90.8" r="1.25" fill="#0000ff"/><circle cx="453.7" cy="94.2" r="1.25" fill="#0000ff"/><circle cx="456.5" cy="98.9" r="1.25" fill="#0000ff"/><circle cx="458.9" cy="102.7" r="1.25" fill="#0000ff"/><circle cx="461.9" cy="109.1" r="1.25" fill="#0000ff"/><circle cx="465.4" cy="116.8" r="1.25" fill="#0000ff"/><circle cx="467.5" cy="122.5" r="1.25" fill="#0000ff"/><circle cx="469.6" cy="128.1" r="1.25" fill="#0000ff"/><circle cx="471.8" cy="134.4" r="1.25" fill="#0000ff"/>
<line x1="412.8" y1="52" x2="412.8" y2="136" stroke="#000" stroke-width="1.9"/>
<line x1="420" y1="52" x2="420" y2="136" stroke="#000" stroke-width="1.9"/>
<line x1="426.9" y1="52" x2="426.9" y2="136" stroke="#000" stroke-width="1.9"/>
<line x1="46.2" y1="180.5" x2="60.400000000000006" y2="180.5" stroke="#ff0000" stroke-width="1.5"/><circle cx="53.5" cy="180.5" r="1.3" fill="#ff0000"/>
<line x1="46.2" y1="195.2" x2="60.400000000000006" y2="195.2" stroke="#0000ff" stroke-width="1.5"/><circle cx="53.5" cy="195.2" r="1.2" fill="#0000ff"/>
<line x1="46.2" y1="208.2" x2="60.400000000000006" y2="208.2" stroke="#000" stroke-width="1.7"/>
<line x1="46.2" y1="218.8" x2="60.400000000000006" y2="218.8" stroke="#000" stroke-width="1.7"/>
<line x1="46.2" y1="229.4" x2="60.400000000000006" y2="229.4" stroke="#000" stroke-width="1.7"/>
<text x="61.4" y="183" class="lg">(L</text>
<text x="69.2" y="186.5" class="lgs">r</text>
<text x="71.6" y="183" class="lg">, L</text>
<text x="81.7" y="186.5" class="lgs">θ</text>
<text x="86.1" y="183" class="lg" textLength="45.6" lengthAdjust="spacing">) = (4.5, 4)</text>
<text x="134.3" y="184" class="rho">ρ</text>
<text x="139" y="186.8" class="lgs">s</text>
<text x="61.4" y="197.7" class="lg">(L</text>
<text x="69.2" y="201.2" class="lgs">r</text>
<text x="71.6" y="197.7" class="lg">, L</text>
<text x="81.7" y="201.2" class="lgs">θ</text>
<text x="86.1" y="197.7" class="lg" textLength="55.8" lengthAdjust="spacing">) = (20, 20.6)</text>
<text x="144.5" y="198.7" class="rho">ρ</text>
<text x="149.2" y="201.5" class="lgs">s</text>
<text x="61.4" y="210.9" class="lg">ch 1</text>
<text x="61.4" y="221.5" class="lg">ch 2</text>
<text x="61.4" y="232.1" class="lg">ch 3</text>
<line x1="307.7" y1="182.6" x2="321.9" y2="182.6" stroke="#ff7070" stroke-width="0.8"/><circle cx="315.0" cy="182.6" r="1.3" fill="#ff0000"/>
<line x1="307.7" y1="196.5" x2="321.9" y2="196.5" stroke="#7070ff" stroke-width="0.8"/><circle cx="315.0" cy="196.5" r="1.2" fill="#0000ff"/>
<line x1="307.7" y1="208.7" x2="321.9" y2="208.7" stroke="#000" stroke-width="1.7"/>
<line x1="307.7" y1="219" x2="321.9" y2="219" stroke="#000" stroke-width="1.7"/>
<line x1="307.7" y1="229.4" x2="321.9" y2="229.4" stroke="#000" stroke-width="1.7"/>
<text x="322.4" y="185.1" class="lg">(L</text>
<text x="330.2" y="188.6" class="lgs">r</text>
<text x="332.6" y="185.1" class="lg">, L</text>
<text x="342.7" y="188.6" class="lgs">θ</text>
<text x="347.1" y="185.1" class="lg" textLength="45.6" lengthAdjust="spacing">) = (4.5, 4)</text>
<text x="395.3" y="186.1" class="rho">ρ</text>
<text x="400" y="188.9" class="lgs">s</text>
<text x="322.4" y="199" class="lg">(L</text>
<text x="330.2" y="202.5" class="lgs">r</text>
<text x="332.6" y="199" class="lg">, L</text>
<text x="342.7" y="202.5" class="lgs">θ</text>
<text x="347.1" y="199" class="lg" textLength="55.8" lengthAdjust="spacing">) = (20, 20.6)</text>
<text x="405.5" y="200" class="rho">ρ</text>
<text x="410.2" y="202.8" class="lgs">s</text>
<text x="322.4" y="211.4" class="lg">ch 1</text>
<text x="322.4" y="221.7" class="lg">ch 2</text>
<text x="322.4" y="232.1" class="lg">ch 3</text>
<text x="1.62" y="14.21" font-family="Liberation Sans" font-size="14.36" font-weight="bold" fill="#000" stroke="#000" stroke-width="0.15">a</text>
<text x="10.97" y="14.65" font-family="Liberation Sans" font-size="15.72" fill="#000" stroke="#000" stroke-width="0.5">)</text>
<text x="267.2" y="14.79" font-family="Liberation Sans" font-size="16.19" font-weight="bold" fill="#000" stroke="#000" stroke-width="0.15">b</text>
<text x="277.77" y="14.65" font-family="Liberation Sans" font-size="15.72" fill="#000" stroke="#000" stroke-width="0.5">)</text>
<text x="123.51" y="13.51" font-family="Liberation Serif" font-size="13.66" font-style="italic" fill="#000" stroke="#000" stroke-width="0.15">S</text>
<path d="M136.32 2.88Q129.63 9.65 136.32 16.43" stroke="#000" stroke-width="1.5" fill="none"/>
<text x="139.17" y="13.65" font-family="Liberation Serif" font-size="15.85" font-style="italic" fill="#000" stroke="#000" stroke-width="0.15">k</text>
<text x="146.71" y="16.95" font-family="Liberation Serif" font-size="13.5" font-style="italic" fill="#000" stroke="#000" stroke-width="0.15">r</text>
<path d="M156.88 2.78Q164.17 9.50 156.88 16.22" stroke="#000" stroke-width="1.5" fill="none"/>
<text x="389.81" y="13.41" font-family="Liberation Serif" font-size="13.95" font-style="italic" fill="#000" stroke="#000" stroke-width="0.15">S</text>
<path d="M402.62 2.78Q396.12 9.50 402.62 16.22" stroke="#000" stroke-width="1.5" fill="none"/>
<text x="405.31" y="13.55" font-family="Liberation Serif" font-size="14.63" font-style="italic" fill="#000" stroke="#000" stroke-width="0.15">k</text>
<text x="413.23" y="17.23" font-family="Liberation Serif" font-size="12.41" font-style="italic" fill="#000" stroke="#000" stroke-width="0.15">θ</text>
<path d="M423.28 2.78Q430.57 9.50 423.28 16.22" stroke="#000" stroke-width="1.5" fill="none"/>
<rect x="131.1" y="267.6" width="1.3" height="11.2" fill="#000"/>
<rect x="159.0" y="267.6" width="1.3" height="11.2" fill="#000"/>
<text x="134.12" y="276.6" font-family="Liberation Serif" font-size="12.62" font-style="italic" fill="#000" stroke="#000" stroke-width="0.05">k</text>
<text x="139.96" y="279.1" font-family="Liberation Serif" font-size="11.07" font-style="italic" fill="#000" stroke="#000" stroke-width="0.05">r</text>
<text x="145.11" y="276.96" font-family="Liberation Serif" font-size="12.28" font-style="italic" fill="#000" stroke="#000" stroke-width="0.05">ρ</text>
<text x="151.29" y="279.49" font-family="Liberation Serif" font-size="11.49" font-style="italic" fill="#000" stroke="#000" stroke-width="0.05">s</text>
<text x="396.69" y="276.6" font-family="Liberation Serif" font-size="13.71" font-style="italic" fill="#000" stroke="#000" stroke-width="0.05">k</text>
<text x="403.92" y="279.9" font-family="Liberation Serif" font-size="9.67" font-style="italic" fill="#000" stroke="#000" stroke-width="0.05">θ</text>
<text x="410.29" y="277.46" font-family="Liberation Serif" font-size="11.8" font-style="italic" fill="#000" stroke="#000" stroke-width="0.05">ρ</text>
<text x="416.08" y="279.88" font-family="Liberation Serif" font-size="12.44" font-style="italic" fill="#000" stroke="#000" stroke-width="0.05">s</text>
<text x="170.67" y="50.05" font-family="Liberation Serif" font-size="12.68" font-style="italic" fill="#000" stroke="#000" stroke-width="0.05">k</text>
<text x="177.22" y="52.35" font-family="Liberation Serif" font-size="10.82" font-style="italic" fill="#000" stroke="#000" stroke-width="0.05">r</text>
<text x="186.24" y="52.4" font-family="Liberation Serif" font-size="16.13" fill="#000" stroke="#000" stroke-width="0.15">&gt;</text>
<text x="199.68" y="51.33" font-family="Liberation Serif" font-size="11.85" fill="#000" stroke="#000" stroke-width="0.15">0</text>
<text x="59.3" y="115.15" font-family="Liberation Serif" font-size="11.79" font-style="italic" fill="#000" stroke="#000" stroke-width="0.05">k</text>
<text x="65.11" y="117.25" font-family="Liberation Serif" font-size="10.93" font-style="italic" fill="#000" stroke="#000" stroke-width="0.05">r</text>
<text x="75.43" y="116.45" font-family="Liberation Serif" font-size="14.41" fill="#000" stroke="#000" stroke-width="0.15">&lt;</text>
<text x="88.38" y="115.43" font-family="Liberation Serif" font-size="11.7" fill="#000" stroke="#000" stroke-width="0.15">0</text>
<line x1="163.3" y1="47.3" x2="139.65" y2="52.67" stroke="#4472c4" stroke-width="1.0"/>
<polygon points="133.8,54 139.12,50.33 140.18,55.01" fill="#4472c4"/>
<line x1="70.9" y1="102.5" x2="84.92" y2="85.26" stroke="#4472c4" stroke-width="1.0"/>
<polygon points="88.7,80.6 86.78,86.77 83.05,83.74" fill="#4472c4"/>
</svg>
</body></html>
